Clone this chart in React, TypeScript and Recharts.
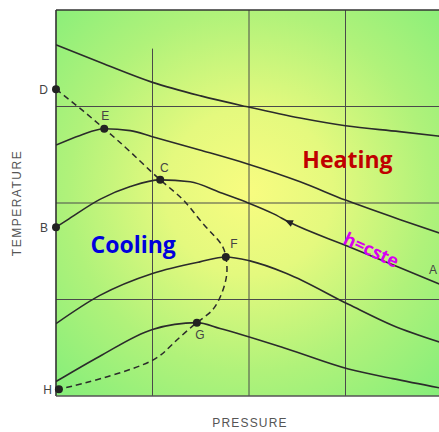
import { ComposedChart, Line, XAxis, YAxis, ReferenceLine, ReferenceArea, ReferenceDot } from 'recharts';

// isenthalps, highest first (pressure, temperature in grid units)
const topX = [0, 0.5, 1, 1.5, 1.97, 2.53, 3, 3.56, 4];
const topY = [3.64, 3.44, 3.25, 3.11, 3.0, 2.88, 2.8, 2.74, 2.69];

const eX = [0, 0.25, 0.5, 0.77, 0.99, 1.49, 1.97, 2.53, 3.0, 3.56, 4.0];
const eY = [2.6, 2.7, 2.77, 2.75, 2.69, 2.55, 2.41, 2.22, 2.03, 1.83, 1.68];

const cX = [0, 0.11, 0.46, 0.77, 1.08, 1.39, 1.7, 1.97, 2.25, 2.42, 3.03, 3.49, 4.0];
const cY = [1.75, 1.82, 2.04, 2.17, 2.24, 2.22, 2.11, 2.01, 1.89, 1.8, 1.55, 1.36, 1.15];

const fX = [0, 0.45, 1.0, 1.49, 1.76, 2.01, 2.39, 3.03, 3.49, 4.0];
const fY = [0.75, 1.04, 1.27, 1.39, 1.44, 1.4, 1.27, 0.95, 0.73, 0.55];

const gX = [0, 0.45, 1.0, 1.46, 1.7, 2.39, 3.03, 3.49, 4.0];
const gY = [0.15, 0.41, 0.69, 0.76, 0.7, 0.49, 0.28, 0.18, 0.08];

// inversion curve D-E-C-F-G-H
const invX = [0, 0.25, 0.5, 0.77, 1.08, 1.32, 1.52, 1.7, 1.76, 1.77, 1.72, 1.62, 1.46, 1.21, 1.0, 0.63, 0.28, 0.03];
const invY = [3.18, 2.98, 2.77, 2.53, 2.24, 2.03, 1.79, 1.59, 1.44, 1.27, 1.07, 0.89, 0.76, 0.54, 0.37, 0.23, 0.13, 0.07];

// named state points
const pointNames = ['D', 'E', 'C', 'B', 'F', 'G', 'H'];
const pointX = [0, 0.5, 1.08, 0, 1.76, 1.46, 0.03];
const pointY = [3.18, 2.77, 2.24, 1.75, 1.44, 0.76, 0.07];

const labelOffset: Record<string, [number, number, string]> = {
  D: [-8, 5, 'end'],
  E: [1, -9, 'middle'],
  C: [4, -8, 'middle'],
  B: [-8, 5, 'end'],
  F: [8, -9, 'middle'],
  G: [3, 16, 'middle'],
  H: [-7, 5, 'end'],
  A: [-9, -11, 'middle'],
};

const toRows = (xs: number[], ys: number[]) => xs.map((x, i) => ({ x, y: ys[i] }));

const curves = [toRows(topX, topY), toRows(eX, eY), toRows(cX, cY), toRows(fX, fY), toRows(gX, gY)];
const inversion = toRows(invX, invY);

const ink = '#2b2b2b';
const gridInk = '#4a4a4a';
const labelFont = 'Liberation Sans, Arial, sans-serif';

const PointMark = (name: string, withDot = true) => (p: any) => {
  const [dx, dy, anchor] = labelOffset[name] || [0, 0, 'middle'];
  return (
    <g>
      {withDot && <circle cx={p.cx} cy={p.cy} r={4} fill="#222" />}
      <text x={p.cx + dx} y={p.cy + dy} textAnchor={anchor} fontSize={12} fill="#444" fontFamily={labelFont}>
        {name}
      </text>
    </g>
  );
};

const Note = (text: string, color: string, size: number, angle = 0) => (p: any) => (
  <text
    x={p.cx}
    y={p.cy}
    textAnchor="middle"
    dominantBaseline="central"
    fontSize={size}
    fontWeight={700}
    fill={color}
    fontFamily="Open Sans, sans-serif"
    transform={angle ? `rotate(${angle} ${p.cx} ${p.cy})` : undefined}
  >
    {text}
  </text>
);

const Arrow = (p: any) => (
  <polygon
    points={`${p.cx - 5},${p.cy} ${p.cx + 3},${p.cy - 3.5} ${p.cx + 3},${p.cy + 3.5}`}
    fill="#222"
    transform={`rotate(24 ${p.cx} ${p.cy})`}
  />
);

const PressureTitle = (props: any) => {
  const vb = props.viewBox || { x: 56, width: 386 };
  return (
    <text x={vb.x + 194} y={427} textAnchor="middle" fontSize={12} letterSpacing={1.2} fill="#555" fontFamily={labelFont}>
      PRESSURE
    </text>
  );
};

const TemperatureTitle = (props: any) => {
  const vb = props.viewBox || { y: 10, height: 386 };
  const cy = vb.y + vb.height / 2;
  return (
    <text x={21} y={cy} textAnchor="middle" fontSize={12} letterSpacing={1.5} fill="#555" fontFamily={labelFont} transform={`rotate(-90 21 ${cy})`}>
      TEMPERATURE
    </text>
  );
};

export default function App() {
  return (
    <div style={{ position: 'absolute', left: 0, top: 0, width: 439, height: 432, overflow: 'hidden', background: '#fff' }}>
      <ComposedChart width={450} height={432} margin={{ top: 10, right: 8, bottom: 0, left: 0 }}>
        <defs>
          <radialGradient id="bgGlow" cx="50%" cy="47%" r="72%">
            <stop offset="0%" stopColor="#f8fc80" />
            <stop offset="30%" stopColor="#e4f97e" />
            <stop offset="65%" stopColor="#b0f27a" />
            <stop offset="100%" stopColor="#86ee7a" />
          </radialGradient>
        </defs>
        <XAxis
          type="number"
          dataKey="x"
          domain={[0, 4]}
          allowDataOverflow
          axisLine={false}
          tickLine={false}
          tick={false}
          height={36}
          label={<PressureTitle />}
        />
        <YAxis
          type="number"
          dataKey="y"
          domain={[0, 4]}
          allowDataOverflow
          axisLine={false}
          tickLine={false}
          tick={false}
          width={56}
          label={<TemperatureTitle />}
        />
        <ReferenceArea x1={0} x2={4} y1={0} y2={4} fill="url(#bgGlow)" fillOpacity={1} stroke="none" />

        {/* grid */}
        <ReferenceLine segment={[{ x: 1, y: 0 }, { x: 1, y: 3.6 }]} stroke={gridInk} strokeWidth={1} />
        <ReferenceLine x={2} stroke={gridInk} strokeWidth={1} />
        <ReferenceLine x={3} stroke={gridInk} strokeWidth={1} />
        <ReferenceLine y={1} stroke={gridInk} strokeWidth={1} />
        <ReferenceLine y={2} stroke={gridInk} strokeWidth={1} />
        <ReferenceLine y={3} stroke={gridInk} strokeWidth={1} />

        {/* frame */}
        <ReferenceLine y={4} stroke="#333" strokeWidth={1.6} />
        <ReferenceLine x={0} stroke="#333" strokeWidth={1.6} />
        <ReferenceLine y={0} stroke="#555" strokeWidth={1.4} />

        {curves.map((rows, i) => (
          <Line
            key={i}
            data={rows}
            dataKey="y"
            type="monotone"
            stroke={ink}
            strokeWidth={1.6}
            dot={false}
            isAnimationActive={false}
          />
        ))}
        <Line
          data={inversion}
          dataKey="y"
          type="natural"
          stroke={ink}
          strokeWidth={1.5}
          strokeDasharray="6 4"
          dot={false}
          isAnimationActive={false}
        />

        {pointNames.map((name, i) => (
          <ReferenceDot key={name} x={pointX[i]} y={pointY[i]} r={0} shape={PointMark(name)} />
        ))}
        <ReferenceDot x={4} y={1.15} r={0} shape={PointMark('A', false)} />
        <ReferenceDot x={2.42} y={1.8} r={0} shape={Arrow} />

        <ReferenceDot x={3.02} y={2.46} r={0} shape={Note('Heating', '#c00000', 23)} />
        <ReferenceDot x={0.8} y={1.57} r={0} shape={Note('Cooling', '#0000dd', 23)} />
        <ReferenceDot x={3.27} y={1.52} r={0} shape={Note('h=cste', '#d600f0', 18, 25)} />
      </ComposedChart>
    </div>
  );
}
